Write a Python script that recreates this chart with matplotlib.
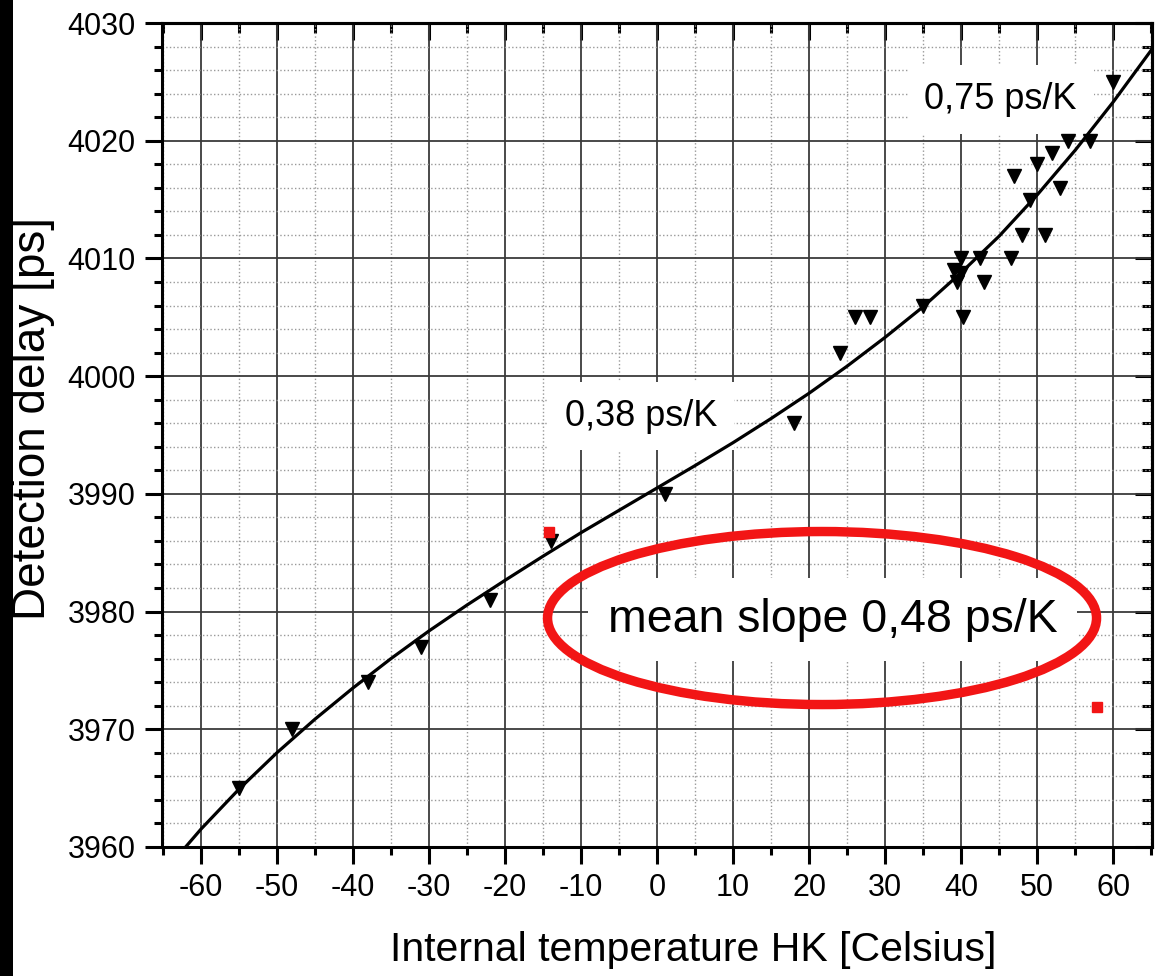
import matplotlib
matplotlib.use('Agg')
import matplotlib.pyplot as plt
import matplotlib.ticker as ticker
from matplotlib.patches import Ellipse, Rectangle

plt.rcParams['font.family'] = ['Liberation Sans', 'DejaVu Sans']
plt.rcParams['axes.unicode_minus'] = False

# measured points (internal temperature [C], detection delay [ps])
temp = [-55, -48, -38, -31, -22, -14, 1, 18, 24, 26, 28, 35,
        39, 40, 40, 39.5, 40.3, 42.5, 43, 46.5, 48, 51, 49, 53,
        47, 50, 52, 54, 57, 60]
delay = [3965, 3970, 3974, 3977, 3981, 3986, 3990, 3996, 4002, 4005, 4005, 4006,
         4009, 4010, 4008.8, 4008, 4005, 4010, 4008, 4010, 4012, 4012, 4015, 4016,
         4017, 4018, 4019, 4020, 4020, 4025]

# fitted curve
fit_t = [-62, -60, -55, -50, -45, -40, -35, -30, -25, -20, -15, -10, -5, 0,
         5, 10, 15, 20, 25, 30, 35, 40, 45, 50, 55, 60, 65]
fit_d = [3960.0, 3961.5, 3964.9, 3968.0, 3970.85, 3973.5, 3976.0, 3978.35, 3980.55,
         3982.65, 3984.7, 3986.7, 3988.6, 3990.5, 3992.4, 3994.35, 3996.4, 3998.55,
         4000.85, 4003.3, 4005.9, 4008.8, 4011.9, 4015.4, 4019.2, 4023.3, 4027.7]

# red marks
red_t = [-14.2, 57.9]
red_d = [3986.8, 3971.9]

fig1 = plt.figure(figsize=(11.59, 9.76), dpi=100)
ax1 = fig1.add_axes([0.1398, 0.1322, 0.8542, 0.8442])

ax1.plot(fit_t, fit_d, color='black', linewidth=2.3, zorder=4)
ax1.plot(temp, delay, linestyle='none', marker='v', markersize=10.5,
         mfc='black', mec='black', zorder=5)
ax1.plot(red_t, red_d, linestyle='none', marker='s', markersize=7,
         mfc='#f21515', mec='#f21515', zorder=6)

ax1.set_xlim(-65.1, 65.1)
ax1.set_ylim(3960, 4030)

ax1.xaxis.set_major_locator(ticker.MultipleLocator(10))
ax1.xaxis.set_minor_locator(ticker.MultipleLocator(5))
ax1.yaxis.set_major_locator(ticker.MultipleLocator(10))
ax1.yaxis.set_minor_locator(ticker.MultipleLocator(2))

# grid
ax1.grid(which='major', color='#3a3a3a', linestyle='-', linewidth=1.3)
ax1.grid(which='minor', color='#999999', linestyle=':', linewidth=1.0)
ax1.set_axisbelow(True)

for axis in ['top', 'bottom', 'left', 'right']:
    ax1.spines[axis].set_linewidth(2.2)

ax1.tick_params(which='major', length=12, width=2.2, direction='out', labelsize=22, pad=7)
ax1.tick_params(which='minor', length=6, width=2.2, direction='out')

# ticks on top and right point inwards
top = ax1.secondary_xaxis('top')
top.xaxis.set_major_locator(ticker.MultipleLocator(10))
top.xaxis.set_minor_locator(ticker.MultipleLocator(5))
top.tick_params(which='major', length=12, width=2.2, direction='in', labeltop=False)
top.tick_params(which='minor', length=7, width=2.2, direction='in')
top.spines['top'].set_linewidth(2.2)

right = ax1.secondary_yaxis('right')
right.yaxis.set_major_locator(ticker.MultipleLocator(10))
right.yaxis.set_minor_locator(ticker.MultipleLocator(2))
right.tick_params(which='major', length=12, width=2.2, direction='in', labelright=False)
right.tick_params(which='minor', length=7, width=2.2, direction='in')
right.spines['right'].set_linewidth(2.2)

ax1.set_xlabel('Internal temperature HK [Celsius]', fontsize=29.5, labelpad=20, x=0.537)
ax1.set_ylabel('Detection delay [ps]', fontsize=33, labelpad=9, y=0.52)

# slope labels
box = dict(facecolor='white', edgecolor='none', pad=12)
ax1.text(45.2, 4023.5, '0,75 ps/K', fontsize=26, ha='center', va='center', bbox=box, zorder=3)
ax1.text(-2.1, 3996.6, '0,38 ps/K', fontsize=26, ha='center', va='center', bbox=box, zorder=3)
ax1.text(23.1, 3979.3, 'mean slope 0,48 ps/K', fontsize=33.5, ha='center', va='center',
         bbox=dict(facecolor='white', edgecolor='none', pad=14), zorder=3)

ax1.add_patch(Ellipse((21.7, 3979.45), width=72.2, height=14.7, fill=False,
                      edgecolor='#f21515', linewidth=6.8, zorder=6))

# black strip on the left edge
fig1.add_artist(Rectangle((0, 0), 13 / 1159, 1, transform=fig1.transFigure,
                          facecolor='black', edgecolor='none'))

plt.savefig('out.png', dpi=100)
